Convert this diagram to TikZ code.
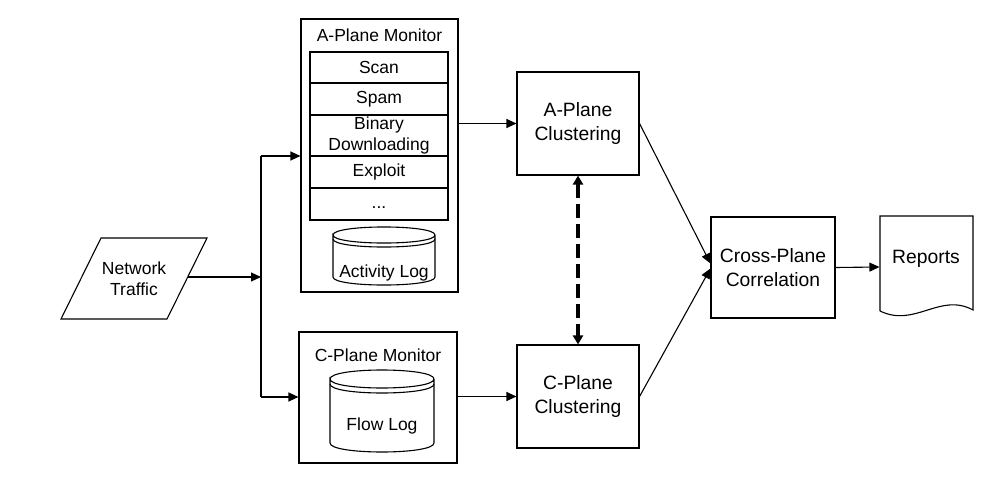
\documentclass[tikz,border=0pt]{standalone}
\usepackage{fontspec}
\setmainfont{Liberation Sans}
\usetikzlibrary{arrows.meta}
\begin{document}
\begin{tikzpicture}[x=1pt,y=-1pt,line width=1.1pt,
  big/.style={font=\fontsize{19.3}{24}\selectfont},
  small/.style={font=\fontsize{17.5}{21}\selectfont},
  box/.style={draw, rectangle, inner sep=0pt, align=center, big},
  frame/.style={draw, rectangle, inner sep=0pt},
  row/.style={draw, rectangle, inner sep=0pt, minimum width=138pt, align=center, small},
  arr/.style={-{Triangle[length=10pt,width=9pt]}},
  dasharr/.style={{Triangle[length=9pt,width=10pt]}-{Triangle[length=9pt,width=10pt]}, line width=3.5pt, dash pattern=on 14pt off 6pt},
  ]
\useasboundingbox (0,0) rectangle (1005,493);

% Network Traffic (parallelogram)
\draw (101,238) -- (207,238) -- (167,319) -- (61,319) -- cycle;
\node[small, align=center, inner sep=0pt] (nt) at (134,279) {Network\\Traffic};
\coordinate (ntout) at (187.7,277);
\coordinate (split) at (261,277);
\coordinate (splitA) at (261,156);
\coordinate (splitC) at (261,397);

% A-Plane Monitor
\node[frame, minimum width=157pt, minimum height=273pt] (am) at (379.5,155.5) {};
\node[small, anchor=base, inner sep=0pt] (amt) at (379.5,41) {A-Plane Monitor};
\node[row, minimum height=31pt] (scan) at (379,67.5) {Scan};
\node[row, minimum height=32pt] (spam) at (379,99) {Spam};
\node[row, minimum height=41pt] (bin) at (379,135.5) {Binary\\Downloading};
\node[row, minimum height=32pt] (expl) at (379,172) {Exploit};
\node[row, minimum height=32pt, text height=12.6pt, text depth=3.7pt] (dots) at (379,204) {...};
% Activity Log cylinder
\draw (333,235) .. controls (333,224.3) and (435,224.3) .. (435,235)
  .. controls (435,245.7) and (333,245.7) .. (333,235)
  -- (333,277) .. controls (333,287.7) and (435,287.7) .. (435,277) -- (435,235);
\draw (333,239) .. controls (333,249.7) and (435,249.7) .. (435,239);
\node[small, anchor=base, inner sep=0pt] (alog) at (384,277) {Activity Log};

% C-Plane Monitor
\node[frame, minimum width=158pt, minimum height=131pt] (cm) at (378,397.5) {};
\node[small, anchor=base, inner sep=0pt] (cmt) at (378,361) {C-Plane Monitor};
% Flow Log cylinder
\draw (330,379) .. controls (330,367) and (434,367) .. (434,379)
  .. controls (434,391) and (330,391) .. (330,379)
  -- (330,443) .. controls (330,455) and (434,455) .. (434,443) -- (434,379);
\draw (330,384) .. controls (330,396) and (434,396) .. (434,384);
\node[small, anchor=base, inner sep=0pt] (flog) at (382,430) {Flow Log};

% Clustering
\node[box, minimum width=122pt, minimum height=103pt] (ac) at (578,123.5) {A-Plane\\Clustering};
\node[box, minimum width=122pt, minimum height=103pt] (cc) at (578,396.5) {C-Plane\\Clustering};

% Cross-Plane Correlation
\node[box, minimum width=124pt, minimum height=101pt] (cr) at (773,267.5) {Cross-Plane\\Correlation};

% Reports document
\node[inner sep=0pt, minimum width=93pt, minimum height=102pt] (rep) at (926.5,267) {};
\draw (880,311) -- (880,216) -- (973,216) -- (973,310)
  .. controls (940,292) and (915,328) .. (880,311);
\node[big, inner sep=0pt] (rept) at (926,259) {Reports};

% Connectors
\draw[arr] (ntout) -- (split);
\draw (splitA) -- (splitC);
\draw[arr] (splitA) -- (am.west |- splitA);
\draw[arr] (splitC) -- (cm.west |- splitC);
\draw[arr] (am.east |- ac.west) -- (ac.west);
\draw[arr] (cm.east |- cc.west) -- (cc.west);
\draw[dasharr] (ac.south) -- (cc.north);
\draw[arr] (ac.east) -- ([yshift=4pt]cr.west);
\draw[arr] (cc.east) -- ([yshift=-1pt]cr.west);
\draw[arr] (cr.east) -- (rep.west);
\end{tikzpicture}
\end{document}
